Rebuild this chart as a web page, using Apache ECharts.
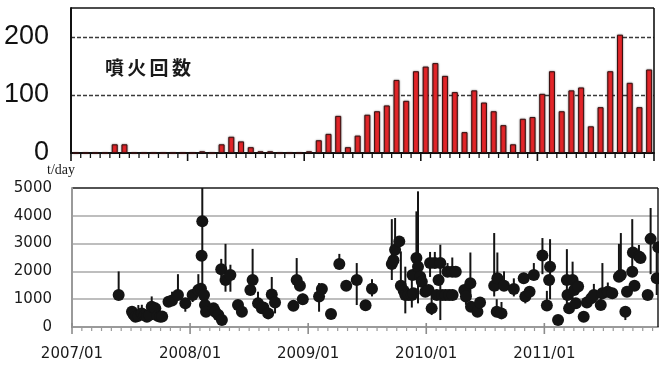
<!DOCTYPE html>
<html>
<head>
<meta charset="utf-8">
<script src="https://cdn.jsdelivr.net/npm/echarts@6/dist/echarts.min.js"></script>
<style>
  html, body { margin: 0; padding: 0; background: #fff; }
  #chart { width: 659px; height: 369px; }
</style>
</head>
<body>
<div id="chart"></div>
<script>
// Monthly eruption counts, 2007/01 - 2011/12
const eruptionMonths = [];
for (let y = 2007; y <= 2011; y++) {
  for (let m = 1; m <= 12; m++) eruptionMonths.push(y + '/' + String(m).padStart(2, '0'));
}
const eruptionCounts = [
  0, 0, 0, 0, 15, 15, 0, 0, 0, 0, 0, 0,
  0, 3, 0, 15, 28, 20, 10, 3, 3, 0, 0, 0,
  3, 22, 33, 64, 10, 30, 66, 72, 82, 126, 90, 141,
  149, 155, 133, 105, 36, 108, 87, 72, 48, 15, 59, 62,
  102, 141, 72, 108, 113, 46, 79, 141, 204, 121, 79, 144
];
const countTicks = [0, 100, 200];

// SO2 emission rate (t/day): observation date, value, lower and upper range
const so2Dates = [
  '2007-05-24','2007-07-04','2007-07-09','2007-07-15','2007-07-24','2007-08-04','2007-08-13','2007-08-20',
  '2007-08-28','2007-09-04','2007-09-15','2007-09-22','2007-09-30','2007-10-06','2007-10-26','2007-11-06',
  '2007-11-24','2007-12-17','2008-01-09','2008-01-27','2008-02-04','2008-02-06','2008-02-08','2008-02-13',
  '2008-02-16','2008-02-19','2008-03-13','2008-03-18','2008-03-28','2008-04-08','2008-04-06','2008-04-19',
  '2008-05-04','2008-05-28','2008-06-09','2008-07-05','2008-07-12','2008-07-29','2008-08-10','2008-08-15',
  '2008-08-30','2008-09-10','2008-09-20','2008-11-16','2008-11-26','2008-12-06','2008-12-15','2009-02-04',
  '2009-02-12','2009-03-11','2009-04-06','2009-04-27','2009-05-30','2009-06-26','2009-07-16','2009-09-16',
  '2009-09-21','2009-09-26','2009-10-09','2009-10-14','2009-10-23','2009-10-28','2009-11-07','2009-11-17',
  '2009-11-19','2009-11-22','2009-12-01','2009-12-06','2009-12-13','2009-12-18','2009-12-29','2010-01-08',
  '2010-01-13','2010-01-18','2010-01-28','2010-02-03','2010-02-08','2010-02-13','2010-02-18','2010-02-28',
  '2010-03-06','2010-03-11','2010-03-21','2010-03-22','2010-04-01','2010-04-27','2010-05-02','2010-05-16',
  '2010-05-18','2010-06-07','2010-06-15','2010-07-29','2010-08-06','2010-08-08','2010-08-21','2010-08-29',
  '2010-09-28','2010-10-29','2010-11-03','2010-11-16','2010-11-29','2010-12-26','2011-01-09','2011-01-16',
  '2011-01-19','2011-02-12','2011-03-10','2011-03-12','2011-03-17','2011-03-28','2011-04-02','2011-04-07',
  '2011-04-14','2011-05-01','2011-05-11','2011-05-25','2011-06-02','2011-06-23','2011-06-28','2011-07-15',
  '2011-07-29','2011-08-19','2011-08-25','2011-09-08','2011-09-13','2011-09-29','2011-10-01','2011-10-06',
  '2011-10-20','2011-10-25','2011-11-16','2011-11-25','2011-12-14','2011-12-19'
];
const so2Values = [
  1150, 550, 450, 370, 400, 490, 420, 370,
  430, 730, 670, 400, 370, 380, 910, 950,
  1150, 850, 1150, 1330, 1380, 2560, 3800, 1150,
  790, 550, 670, 550, 430, 250, 2080, 1690,
  1870, 790, 550, 1330, 1690, 850, 670, 700,
  490, 1170, 880, 760, 1690, 1480, 1000, 1100,
  1370, 470, 2270, 1480, 1690, 780, 1380, 2270,
  2400, 2780, 3080, 1480, 1300, 1150, 1150, 1150,
  1870, 1210, 2480, 2170, 1810, 1630, 1270, 1330,
  2300, 670, 2300, 1150, 1690, 2300, 1150, 1150,
  1990, 1150, 1990, 1150, 1990, 1330, 1100, 1570,
  730, 550, 880, 1480, 550, 1750, 490, 1480,
  1370, 1750, 1100, 1270, 1870, 2570, 770, 1690,
  2170, 250, 1690, 1150, 670, 1690, 1330, 850,
  1460, 370, 880, 1030, 1150, 790, 1210, 1270,
  1210, 1810, 1870, 550, 1270, 1990, 2680, 1480,
  2540, 2480, 1150, 3170, 1750, 2870
];
const so2Low = [
  null, null, null, null, null, null, null, null,
  null, null, null, null, null, null, null, null,
  null, 550, 900, null, null, null, 870, null,
  null, null, null, null, null, null, 1800, 1270,
  1270, null, null, null, 1330, null, null, null,
  null, null, 490, null, null, null, 800, 550,
  null, null, null, null, 790, null, 1100, 1690,
  null, null, null, null, null, 490, null, 700,
  null, null, 1700, 850, null, null, null, null,
  1800, 430, null, null, null, 250, null, null,
  null, null, null, null, null, null, 800, 1100,
  null, null, null, 1100, null, 1300, null, null,
  1100, null, 850, null, null, 1900, null, null,
  1000, null, 800, null, null, 750, null, null,
  null, null, null, null, null, null, null, null,
  null, null, null, 250, null, null, null, null,
  null, null, null, 1900, 1150, null
];
const so2High = [
  2000, null, null, null, 790, 800, null, null,
  null, 1100, null, null, null, null, null, 1270,
  1900, null, 1350, 1900, null, null, 5000, null,
  null, null, null, null, null, null, 2450, 2990,
  2240, null, null, null, 2810, 1270, null, null,
  null, 1800, null, null, 2480, null, 1200, 1580,
  null, null, 2630, null, 2300, null, 1720, 3880,
  null, 3920, null, 2720, null, 2170, null, 1700,
  null, null, 4160, 4880, null, null, null, null,
  2700, 1210, 2700, null, null, 2960, null, null,
  2300, null, 2500, null, null, null, 1600, 2680,
  null, null, null, 3380, 1000, 2680, 900, 2000,
  1750, 1950, null, null, 2300, 3200, 1300, null,
  3160, null, 2800, null, null, 2350, null, null,
  null, null, 1100, null, 1550, 1200, 2300, 1600,
  null, 2990, 3380, null, null, 3880, null, null,
  2950, null, null, 4280, 3050, null
];
const so2Ticks = [0, 1000, 2000, 3000, 4000, 5000];

// Fractional months since 2007/01 for a 'YYYY-MM-DD' date
function monthIndex(s) {
  const [y, m, d] = s.split('-').map(Number);
  const days = new Date(y, m, 0).getDate();
  return (y - 2007) * 12 + (m - 1) + (d - 1) / days;
}

const so2Points = so2Dates.map((d, i) => [monthIndex(d), so2Values[i]]);
const so2Ranges = so2Dates.map((d, i) => [
  monthIndex(d),
  so2Low[i] == null ? so2Values[i] : so2Low[i],
  so2High[i] == null ? so2Values[i] : so2High[i]
]);

const MONTH_MAX = 59.55;
const UPPER = { left: 71, top: 8, width: 583, height: 145 };
const LOWER = { left: 72, top: 188, width: 586, height: 139 };

function seg(x1, y1, x2, y2, color, width) {
  return { type: 'line', z: 50, silent: true, shape: { x1, y1, x2, y2 }, style: { stroke: color, lineWidth: width } };
}

// Frame lines and month / year tick marks for both plots
function frameGraphics() {
  const out = [];
  const uRight = UPPER.left + UPPER.width, uBottom = UPPER.top + UPPER.height;
  out.push(seg(UPPER.left, UPPER.top, uRight, UPPER.top, '#111', 1.3));
  out.push(seg(uRight, UPPER.top, uRight, uBottom, '#111', 1.6));
  const n = eruptionMonths.length;
  for (let i = 0; i <= n; i++) {
    const x = UPPER.left + (UPPER.width * i) / n;
    const major = i % 12 === 0;
    out.push(seg(x, uBottom, x, uBottom + (major ? 8 : 5), '#111', major ? 1.6 : 1.3));
  }
  const lRight = LOWER.left + LOWER.width, lBottom = LOWER.top + LOWER.height;
  out.push(seg(lRight, LOWER.top, lRight, lBottom, '#111', 1.4));
  for (let m = 0; m <= MONTH_MAX; m++) {
    const x = LOWER.left + (LOWER.width * m) / MONTH_MAX;
    out.push(m % 12 === 0
      ? seg(x, lBottom - 4, x, lBottom + 7, '#8c8c8c', 1.6)
      : seg(x, lBottom, x, lBottom + 4, '#9a9a9a', 1.2));
  }
  return out;
}

const chart = echarts.init(document.getElementById('chart'));
const labelChars = '噴火回数'.split('');
const noParts = () => ({ axisLine: { show: false }, axisTick: { show: false }, axisLabel: { show: false }, splitLine: { show: false } });

chart.setOption({
  animation: false,
  backgroundColor: '#fff',
  grid: [Object.assign({}, UPPER), Object.assign({}, LOWER)],
  xAxis: [
    Object.assign(noParts(), {
      gridIndex: 0, type: 'category', data: eruptionMonths, boundaryGap: true,
      axisLine: { show: true, onZero: false, lineStyle: { color: '#111', width: 2 } }
    }),
    Object.assign(noParts(), {
      gridIndex: 1, type: 'value', min: 0, max: MONTH_MAX, interval: 12,
      axisLine: { show: true, onZero: false, lineStyle: { color: '#9a9a9a', width: 2 } },
      axisLabel: {
        show: true, showMaxLabel: false, margin: 20, fontSize: 15, color: '#1a1a1a', fontFamily: 'DejaVu Sans',
        formatter: (v) => (2007 + Math.round(v / 12)) + '/01'
      }
    })
  ],
  yAxis: [
    Object.assign(noParts(), {
      gridIndex: 0, type: 'value', min: 0, max: 250, interval: 100,
      axisLine: { show: true, onZero: false, lineStyle: { color: '#111', width: 2 } },
      axisLabel: {
        show: true, showMaxLabel: false, margin: 22, fontSize: 27, color: '#111',
        fontFamily: '"Liberation Sans Narrow", "Liberation Sans", sans-serif',
        formatter: (v) => countTicks.includes(v) ? String(v) : ''
      },
      splitLine: { show: true, lineStyle: { color: ['rgba(0,0,0,0)', '#3a3a3a', '#3a3a3a', 'rgba(0,0,0,0)'], width: 1.3, type: [4, 2] } }
    }),
    Object.assign(noParts(), {
      gridIndex: 1, type: 'value', min: so2Ticks[0], max: so2Ticks[so2Ticks.length - 1], interval: 1000,
      axisLine: { show: true, onZero: false, lineStyle: { color: '#9a9a9a', width: 2 } },
      axisLabel: { show: true, margin: 20, fontSize: 15, color: '#1a1a1a', fontFamily: 'DejaVu Sans', formatter: (v) => String(v) },
      splitLine: { show: true, lineStyle: { color: ['#9a9a9a', '#a8a8a8', '#a8a8a8', '#a8a8a8', '#a8a8a8', '#1a1a1a'], width: 1.5 } }
    })
  ],
  graphic: [
    ...labelChars.map((ch, i) => ({
      type: 'text', left: 105 + i * 22.3, top: 58,
      style: { text: ch, fontSize: 19, fontWeight: 'bold', fill: '#1a1a1a', fontFamily: '"Noto Sans CJK JP", sans-serif' }
    })),
    {
      type: 'text', left: 47, top: 163,
      style: { text: 't/day', fontSize: 14, fill: '#1a1a1a', fontFamily: '"Liberation Serif", serif' }
    },
    ...frameGraphics()
  ],
  series: [
    {
      type: 'bar', xAxisIndex: 0, yAxisIndex: 0, data: eruptionCounts, barWidth: 6,
      itemStyle: { color: '#e8262a', borderColor: '#3a1010', borderWidth: 1, shadowBlur: 2, shadowColor: 'rgba(0,0,0,0.45)' }
    },
    {
      type: 'custom', xAxisIndex: 1, yAxisIndex: 1, data: so2Ranges, clip: true, z: 4,
      renderItem: (params, api) => {
        const p1 = api.coord([api.value(0), api.value(1)]);
        const p2 = api.coord([api.value(0), api.value(2)]);
        return { type: 'line', shape: { x1: p1[0], y1: p1[1], x2: p2[0], y2: p2[1] }, style: { stroke: '#141414', lineWidth: 2 } };
      }
    },
    {
      type: 'scatter', xAxisIndex: 1, yAxisIndex: 1, data: so2Points, symbol: 'circle', symbolSize: 12, clip: false, z: 5,
      itemStyle: { color: '#141414', opacity: 1 }
    }
  ]
});
</script>
</body>
</html>
